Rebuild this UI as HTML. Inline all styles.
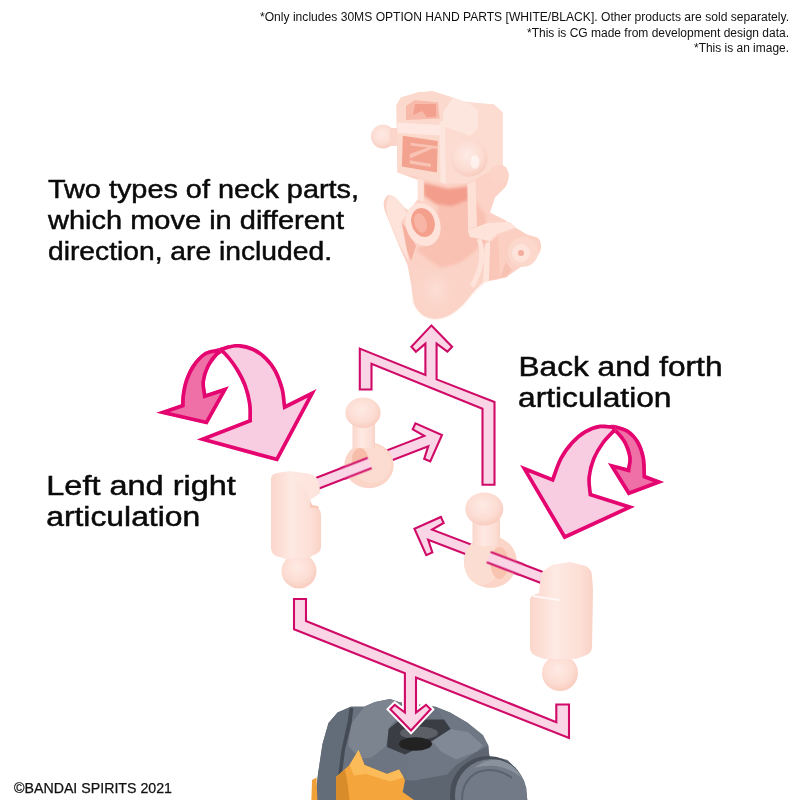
<!DOCTYPE html>
<html lang="en">
<head>
<meta charset="utf-8">
<title>30MS Option Parts</title>
<style>
html,body{margin:0;padding:0;background:#fff;}
body{width:800px;height:800px;overflow:hidden;position:relative;font-family:"Liberation Sans",sans-serif;}
svg{position:absolute;left:0;top:0;display:block;}
.note{font-family:"Liberation Sans",sans-serif;font-size:12px;fill:#111;}
.big{font-family:"Liberation Sans",sans-serif;fill:#0a0a0a;stroke:#0a0a0a;stroke-width:.48px;paint-order:stroke;}
.arw{fill:#fad5e6;stroke:#d00a67;stroke-width:2.1;stroke-linejoin:miter;}
.cl{fill:#f9cde1;stroke:#e40570;stroke-width:7.4;stroke-linejoin:miter;}
.cd{fill:#ee70a6;stroke:#e40570;stroke-width:7.4;stroke-linejoin:miter;}
</style>
</head>
<body>
<svg width="800" height="800" viewBox="0 0 800 800">
<defs>
<radialGradient id="ball" cx="45%" cy="40%" r="65%">
<stop offset="0" stop-color="#feeae4"/><stop offset=".6" stop-color="#fcddd3"/><stop offset="1" stop-color="#f8c9bb"/>
</radialGradient>
<linearGradient id="cyl" x1="0" x2="1" y1="0" y2="0">
<stop offset="0" stop-color="#fbd6cb"/><stop offset=".4" stop-color="#fee9e3"/><stop offset=".8" stop-color="#fcdfd6"/><stop offset="1" stop-color="#fad2c6"/>
</linearGradient>
<radialGradient id="hl"><stop offset="0" stop-color="#fde0d7" stop-opacity=".95"/><stop offset="1" stop-color="#fbd3c7" stop-opacity="0"/></radialGradient>
<filter id="blur2" x="-20%" y="-20%" width="140%" height="140%"><feGaussianBlur stdDeviation="1.8"/></filter>
<filter id="soft" x="-5%" y="-5%" width="110%" height="110%"><feGaussianBlur stdDeviation="0.7"/></filter>
<g id="arrow"><!-- points +x, tip at 0,0; shaft length set by use of path below --></g>
</defs>

<!-- TEXT -->
<g id="texts" opacity="0.999">
<text class="note" x="789" y="21" text-anchor="end" textLength="529" lengthAdjust="spacingAndGlyphs">*Only includes 30MS OPTION HAND PARTS [WHITE/BLACK]. Other products are sold separately.</text>
<text class="note" x="789" y="36.5" text-anchor="end" textLength="262" lengthAdjust="spacingAndGlyphs">*This is CG made from development design data.</text>
<text class="note" x="789" y="51.5" text-anchor="end" textLength="95" lengthAdjust="spacingAndGlyphs">*This is an image.</text>

<text class="big" font-size="26" x="48" y="197.5" textLength="311" lengthAdjust="spacingAndGlyphs">Two types of neck parts,</text>
<text class="big" font-size="26" x="48" y="229" textLength="296" lengthAdjust="spacingAndGlyphs">which move in different</text>
<text class="big" font-size="26" x="48" y="260" textLength="284" lengthAdjust="spacingAndGlyphs">direction, are included.</text>

<text class="big" font-size="27" x="518.5" y="376.2" textLength="204" lengthAdjust="spacingAndGlyphs">Back and forth</text>
<text class="big" font-size="27" x="518" y="406.6" textLength="153.5" lengthAdjust="spacingAndGlyphs">articulation</text>

<text class="big" font-size="27" x="46.3" y="494.5" textLength="189.5" lengthAdjust="spacingAndGlyphs">Left and right</text>
<text class="big" font-size="27" x="46.2" y="526" textLength="154" lengthAdjust="spacingAndGlyphs">articulation</text>

<text font-family="Liberation Sans, sans-serif" font-size="14" fill="#111" stroke="#111" stroke-width=".25" x="14" y="793" textLength="158" lengthAdjust="spacingAndGlyphs">©BANDAI SPIRITS 2021</text>
</g>

<!-- TORSO -->
<g id="torso" filter="url(#soft)">
<path fill="#69727e" d="M315.0,800.1 L318.0,774.0 L322.5,744.0 L328.5,723.0 L337.5,712.5 L351.0,706.5 L364.5,706.5 L375.0,702.0 L390.0,699.0 L399.0,702.0 L435.0,706.5 L450.0,712.5 L468.0,723.0 L472.5,730.0 L482.5,737.5 L488.0,745.0 L489.0,753.0 L490.0,757.0 L496.0,757.0 L507.5,760.0 L517.5,770.0 L525.0,785.0 L527.5,800.0 Z"/>
<path fill="#646d79" d="M315.0,800.1 L318.0,774.0 L322.5,744.0 L328.5,723.0 L337.5,712.5 L349.5,707.4 L349.5,720.0 L342.0,750.0 L339.0,774.0 L337.5,800.1 Z"/>
<path fill="#7b8490" d="M351.6,723.0 L364.5,706.5 L375.0,702.0 L390.0,699.0 L399.0,702.0 L403.5,712.5 L390.0,726.0 L385.5,747.0 L372.0,757.5 L360.0,759.0 L348.0,745.5 Z"/>
<path fill="#454b54" d="M349.5,707.4 L353.4,708.0 L351.6,723.0 L345.0,750.0 L342.0,774.0 L340.5,800.1 L336.0,800.1 L338.4,774.0 L341.4,750.0 L348.0,720.0 Z"/>
<path fill="#6c7581" d="M360.0,759.0 L372.0,757.5 L385.5,747.0 L405.0,754.5 L408.6,759.6 L405.0,780.0 L399.0,769.5 L387.0,774.0 L364.5,765.0 Z"/>
<path fill="#5d6571" d="M414.0,780.6 L447.0,774.6 L456.0,765.0 L477.0,751.5 L488.4,745.5 L489.0,757.5 L480.0,765.0 L468.0,780.0 L463.5,800.1 L402.0,800.1 L405.6,780.0 Z"/>
<clipPath id="tclip"><rect x="300" y="690" width="240" height="110"/></clipPath>
<g clip-path="url(#tclip)"><circle cx="488" cy="794" r="38" fill="#4a5059"/>
<circle cx="491" cy="795" r="36" fill="#717a86"/>
<path fill="none" stroke="#5c646f" stroke-width="2" d="M462,800 Q462,780 478,772 Q496,766 512,778"/>
<path fill="#8a929d" d="M474,768 Q486,758 500,760 Q514,764 522,778 Q510,768 496,766 Q484,765 474,768 Z"/></g>
<path fill="#6e7783" d="M432.0,741.0 L450.6,729.0 L444.0,719.4 L435.0,706.5 L450.0,712.5 L468.0,723.0 L483.0,735.0 L488.4,745.5 L477.0,751.5 L456.0,765.0 L447.0,774.6 L414.0,780.6 L405.6,780.0 L408.6,759.6 L405.0,754.5 Z"/>
<path fill="#808995" d="M432.0,741.0 L450.6,729.0 L468.0,732.0 L483.0,745.5 L477.0,751.5 L456.0,759.6 L441.0,751.5 Z"/>
<path fill="#3b3e45" d="M387.0,747.0 L388.5,729.0 L400.5,719.4 L444.0,719.4 L450.6,729.0 L432.0,741.0 L405.0,754.5 Z"/>
<ellipse cx="419" cy="733" rx="19" ry="6.5" fill="#5b5e65"/>
<ellipse cx="415.5" cy="744" rx="16.5" ry="6.8" fill="#202124"/>
<path fill="#f4a53b" d="M336.0,800.1 L336.0,777.0 L349.5,765.0 L358.5,750.0 L364.5,765.0 L387.0,774.0 L399.0,769.5 L405.0,780.0 L402.6,792.0 L414.0,800.1 Z"/>
<path fill="#fbbb58" d="M349.5,765.0 L358.5,750.0 L364.5,765.0 L387.0,774.0 L399.0,769.5 L403.8,777.6 L390.0,781.5 L366.0,774.0 L354.0,775.5 Z"/>
<path fill="#d98c2b" d="M336.0,800.1 L336.0,777.0 L345.0,769.5 L348.0,786.0 L349.5,800.1 Z"/>
<path fill="#f0a037" d="M311.4,800.1 L312.0,780.0 L316.5,777.6 L317.4,800.1 Z"/>
</g>

<!-- FLOW ARROWS -->
<g id="flow">
<!-- top bracket + up arrow -->
<path class="arw" d="M359.8,348.6 L425.4,375 L425.4,343.6 L415.9,351.7 L411.4,346.8 L431.45,325.4 L452.1,346.8 L447.4,351.7 L436.6,343.6 L436.6,379.4 L494.5,402 L494.5,484.7 L482.5,484.7 L482.5,408.7 L371.5,363.8 L371.5,389.5 L359.8,389.5 Z"/>
<!-- bottom bracket + down arrow -->
<path class="arw" stroke="#fff" stroke-width="6" d="M404.9,700 L404.9,712.5 L394.8,704.8 L390.3,709.3 L411,730.4 L430.6,709.3 L426,704.8 L416,712.5 L416,700 Z" style="stroke:#fff;stroke-width:6"/>
<path class="arw" d="M294,599 L306,599 L306,621 L556.3,722.3 L556.3,704.5 L569,704.5 L569,737.9 L416,677.6 L416,712.5 L426,704.8 L430.6,709.3 L411,730.4 L390.3,709.3 L394.8,704.8 L404.9,712.5 L404.9,673.2 L294,629.3 Z"/>
<!-- arrow 2 (up-right) -->
<path class="arw" transform="translate(442.9,434.6) rotate(-21.2)" d="M-137,-5.5 L-17.8,-5.5 L-26.2,-15.8 L-21.5,-20.5 L-1,0 L-21.5,20.5 L-26.2,15.8 L-17.8,5.5 L-137,5.5"/>
<!-- arrow 3 (up-left) -->
<path class="arw" transform="translate(413.5,528.4) rotate(200.9)" d="M-142,-5.5 L-17.8,-5.5 L-26.2,-15.8 L-21.5,-20.5 L-1,0 L-21.5,20.5 L-26.2,15.8 L-17.8,5.5 L-142,5.5"/>
</g>

<!-- CURVED ARROWS -->
<g id="curved">
<defs>
<path id="cv0" d="M223.1,346.9 C222.2,347.2 220.7,347.6 217.5,348.5 C214.3,349.4 208.1,349.9 204.0,352.5 C199.9,355.1 196.0,359.3 192.8,363.8 C189.6,368.3 186.8,374.2 184.9,379.5 C183.0,384.8 182.1,391.2 181.5,395.3 C180.9,399.4 181.2,402.8 181.1,404.3 L156.3,412.8 L207.4,424.5 L228.8,386.3 L206.3,393.7 C206.1,391.7 204.6,386.2 205.1,381.8 C205.6,377.4 207.5,371.4 209.6,367.1 C211.7,362.8 215.2,358.3 217.5,355.9 C219.8,353.5 222.2,353.1 223.1,352.5 Z"/><clipPath id="cc0"><use href="#cv0"/></clipPath>
<path id="cv1" d="M217.5,349.1 C219.2,348.5 223.8,346.2 227.6,345.3 C231.3,344.4 235.7,343.6 240.0,344.0 C244.3,344.4 249.0,345.4 253.5,347.6 C258.0,349.8 263.1,353.2 267.0,357.0 C270.9,360.8 274.3,365.2 277.1,370.5 C279.9,375.8 282.4,382.9 283.9,388.5 C285.4,394.1 285.7,401.7 286.1,404.3 L316.5,389.0 L277.8,461.6 L196.8,439.6 L248.3,419.6 C248.2,417.1 248.7,409.9 247.9,404.3 C247.1,398.8 245.5,391.9 243.4,386.3 C241.3,380.7 238.3,375.2 235.5,370.5 C232.7,365.8 229.5,361.7 226.5,358.1 C223.5,354.5 219.0,350.6 217.5,349.1 Z"/><clipPath id="cc1"><use href="#cv1"/></clipPath>
<path id="cv2" d="M610.1,424.9 C611.0,425.0 612.6,424.4 615.8,425.3 C619.0,426.2 625.4,427.6 629.3,430.3 C633.2,433.0 636.8,437.0 639.4,441.5 C642.0,446.0 643.9,451.7 645.0,457.3 C646.1,462.9 645.9,472.3 646.1,475.3 L664.1,482.0 L628.1,495.5 L607.9,462.9 L627.0,468.1 C627.2,466.3 628.7,461.4 628.1,457.3 C627.5,453.2 625.7,447.8 623.6,443.8 C621.5,439.9 618.0,435.7 615.8,433.6 C613.5,431.5 611.0,431.8 610.1,431.4 Z"/><clipPath id="cc2"><use href="#cv2"/></clipPath>
<path id="cv3" d="M615.8,425.8 C613.2,425.6 605.2,423.9 600.0,424.6 C594.8,425.4 589.2,427.5 584.3,430.3 C579.4,433.1 574.9,437.0 570.8,441.5 C566.7,446.0 562.7,451.3 559.5,457.3 C556.3,463.3 552.9,474.1 551.6,477.5 L520.1,465.1 L564.0,539.4 L634.9,506.8 L592.1,493.3 C591.9,490.7 590.4,483.1 591.0,477.5 C591.6,471.9 593.2,465.1 595.5,459.5 C597.8,453.9 601.1,448.5 604.5,443.8 C607.9,439.1 613.9,433.5 615.8,431.4 Z"/><clipPath id="cc3"><use href="#cv3"/></clipPath>
</defs>
<use href="#cv0" class="cd" clip-path="url(#cc0)"/>
<use href="#cv1" class="cl" clip-path="url(#cc1)"/>
<use href="#cv2" class="cd" clip-path="url(#cc2)"/>
<use href="#cv3" class="cl" clip-path="url(#cc3)"/>
</g>

<!-- PARTS -->
<g id="parts" filter="url(#soft)">
<!-- ===== big head/neck part ===== -->
<g id="bigpart">
<circle cx="383" cy="136.5" r="12" fill="url(#ball)"/>
<path fill="#fbd5c9" d="M390,128 L398,128 L398,146 L390,146 Z"/>
<path fill="#fbd2c5" d="M396.5,105 L401,97.5 L417.5,92.5 L432.5,91.3 L452.5,97.5 L470,103.8 L494,104.5 L502.5,112.5 L502.5,165 Q509,170 508.8,176 Q508,184 505,187.5 L495,197.5 L490,212.5 L505,220 L512.5,226 L525,233.8 L537.5,237.5 Q542,242 541,248 Q540,255 534,259 L520,267.5 L506,277.5 L495,280 L482.5,282 L475,290 L462.5,305 Q456,311 450,315 Q443,318.5 435,318.8 Q427,318 422.5,315 Q416,309 413.8,302.5 L411.3,285 L407.5,265 L397.5,242.5 L387.5,217.5 Q383,208 383.8,202.5 Q385,196 388.8,195 Q393,195 396,198 L404,207 L409,211 Q413,205 418,199 L418,180 L397.5,172.5 Z"/>
<!-- left wing lighter -->
<path fill="#fde3da" d="M388.8,196 Q393,195 396,198 L404,207 L407,214 L401,222 L409,262 L398,242 L388,217.5 Q384,206 388.8,196 Z"/>
<!-- shadow between wing and body -->
<path fill="#f6b09f" d="M402,223 L408,230 L416,246 L411,261 L407,250 Z"/>
<!-- body right of ring (mid pink) -->
<path filter="url(#blur2)" fill="#f9c1b2" d="M418,182 L470,194 L486,215 L486,246 L470,262 L440,268 L416,250 L436,236 L438,205 Z"/>
<!-- under-box shadow -->
<path filter="url(#blur2)" fill="#f39d8c" d="M424,183 L448,189 L468,186 L468,200 L452,206 L436,204 L424,196 Z"/>
<!-- lower cone -->
<path filter="url(#blur2)" fill="#fbd3c7" d="M411,262 Q420,272 440,270 Q462,266 480,246 L484,282 L475,290 L462.5,305 Q448,318 435,318.8 Q420,317 413.8,302.5 Z"/>
<ellipse cx="436" cy="290" rx="22" ry="27" fill="url(#hl)"/>
<path fill="#fde3da" d="M481,238 Q486,250 484,262 Q481,276 474,288 L470,285 Q477,272 479,260 Q480,248 477,240 Z"/>
<!-- neck ridges -->
<path fill="#fde0d6" d="M417.6,178 L423.8,180 L423.8,202 L417.6,200 Z"/>
<path fill="#fde1d7" d="M467.5,184 L475.5,181 L477,226 L468,230 Z"/>
<!-- ring with hole -->
<ellipse cx="423" cy="224.5" rx="17.2" ry="22" transform="rotate(-18 423 224.5)" fill="#fde3da"/>
<ellipse cx="423" cy="222.5" rx="11.5" ry="14.7" transform="rotate(-18 423 222.5)" fill="#f59f8d"/>
<ellipse cx="420.5" cy="223" rx="6" ry="10" transform="rotate(-18 420.5 223)" fill="#f8b5a5"/>
<!-- right lower piece -->
<path fill="#fde3da" d="M467.5,230 L487.5,223 L510,222 L516,227.5 L497,234 L490,241 L470,237 Z"/>
<path fill="#f9c6b8" d="M490,243 L498,236 L504,248 L500,278 L488,281 Z"/>
<path fill="#fde5dc" d="M485,244 L490,242 L489,281 L483,283 Z"/>
<path fill="#fbcfc2" d="M498,236 L516,228 L526,234 L508,262 L500,278 Z"/>
<circle cx="523" cy="252" r="15" fill="#fcd8cc"/>
<circle cx="521" cy="253" r="9" fill="#fde3da"/>
<circle cx="521" cy="253" r="3" fill="#f3ad9d"/>
<path fill="#f8c2b3" d="M506,262 L512,270 L506,277 L500,278 Z"/>
<!-- box right side -->
<path fill="#fcdbd0" d="M443,126 L458,101 L494,104.5 L502.5,112.5 L502.5,165 L468,183 L445,184 Z"/>
<path fill="#fde6de" d="M452.5,97.5 L470,103.8 L478,110 L478,128 L470,136 L443,126 L443,112 Z"/>
<!-- right bump -->
<circle cx="499" cy="174" r="9.5" fill="#fcd4c8"/>
<!-- box front face -->
<path fill="#fcd9cd" d="M396.5,105 L401,97.5 L417.5,92.5 L432.5,91.3 L452.5,97.5 L443,112 L445,184 L397.5,172.5 Z"/>
<path fill="#fde6de" d="M439.5,122 L445,120 L446,184 L440.5,182.5 Z"/>
<!-- top cavity -->
<path fill="#f8baab" d="M406,106 L415,100 L438,102.5 L439.5,118.5 L406,120 Z"/>
<path fill="#f3a08f" d="M415,104 L436,104 L436,116.5 L427,117.5 L422,111 L413,115 Z"/>
<!-- light band -->
<path fill="#fee8e1" d="M397.5,122.6 L440.4,125 L440.4,135.5 L397.5,133 Z"/>
<!-- front slot -->
<path fill="#f3a28f" d="M402.8,135.8 L437.8,141 L436.9,172.5 L401.9,166.4 Z"/>
<path fill="#f9c3b4" d="M410.6,142.8 L437.7,146.3 L437.7,149 L432.5,148.5 L409.8,158.5 L409.8,160.3 L430.8,163.8 L430.8,167 L409.8,163.8 L409.8,154 L428,147.5 L410.6,145.5 Z"/>
<!-- big right ball -->
<circle cx="469.3" cy="158.5" r="18.2" fill="url(#ball)"/>
<ellipse cx="475" cy="162" rx="4.5" ry="7" fill="#fff" opacity=".55"/>
</g>

<!-- ===== ball joint 1 ===== -->
<g id="bj1">
<ellipse cx="369" cy="465.3" rx="24.7" ry="23" fill="#fbd6c8"/>
<ellipse cx="372" cy="464" rx="19" ry="19" fill="#fcdcd0"/>
<ellipse cx="360" cy="459" rx="8" ry="11" fill="#f7bda8"/>
<rect x="352.5" y="420" width="22.5" height="28" fill="url(#cyl)"/>
<ellipse cx="363" cy="412.8" rx="17.6" ry="15.2" fill="url(#ball)"/>
</g>

<!-- ===== ball joint 2 ===== -->
<g id="bj2">
<ellipse cx="490.5" cy="562" rx="26.5" ry="26" fill="#fbd6c8"/>
<ellipse cx="482" cy="562" rx="18" ry="23" fill="#fcddd1"/>
<ellipse cx="499.5" cy="563" rx="9" ry="16" fill="#f8c3af"/>
<rect x="472.5" y="519" width="27.5" height="27" fill="url(#cyl)"/>
<ellipse cx="484.3" cy="509" rx="19" ry="16.5" fill="url(#ball)"/>
</g>

<!-- ===== L part 1 ===== -->
<g id="lp1">
<circle cx="299" cy="571" r="17.5" fill="url(#ball)"/>
<path fill="url(#cyl)" d="M271,479 Q271,474 277,473 L290,471 L310,474 Q318,477 319,483 L320,493 L310,500 L310,508 L319,509 Q321,511 321,516 L321,546 Q321,552 316,554 L308,558 L286,559 L276,556 Q271,553 271,548 Z"/>
<path fill="#f8c9b9" d="M310,500 L310,508 L319,509 L318,506 L312,505 Z"/>
<path fill="#fee7e0" opacity=".8" d="M284,472 L310,474 Q318,477 319,483 L320,493 L310,500 Q306,484 284,472 Z"/>
</g>

<!-- ===== L part 2 ===== -->
<g id="lp2">
<circle cx="560" cy="673" r="18" fill="url(#ball)"/>
<path fill="url(#cyl)" d="M542,572 L552,565 L570,562 L586,566 Q592,570 592,576 L593,590 L592,648 Q591,654 584,656 L576,659 L544,659 L536,656 Q530,653 530,648 L530,598 L533,595 L539,593 L540,583 Z"/>
<path fill="#fff" opacity=".8" d="M533,595 L560,599.5 L560,601 L533,597 Z"/>
</g>
</g>
<!-- shaft overlays through rings -->
<g transform="translate(442.9,434.6) rotate(-21.2)"><rect x="-108" y="-5.5" width="29.5" height="11" fill="#fad5e6"/><path d="M-108,-5.5 L-78.5,-5.5 M-108,5.5 L-78.5,5.5" class="arw" fill="none"/></g>
<g transform="translate(413.5,528.4) rotate(200.9)"><rect x="-116" y="-5.5" width="35.5" height="11" fill="#fad5e6"/><path d="M-116,-5.5 L-80.5,-5.5 M-116,5.5 L-80.5,5.5" class="arw" fill="none"/></g>
</svg>
</body>
</html>
